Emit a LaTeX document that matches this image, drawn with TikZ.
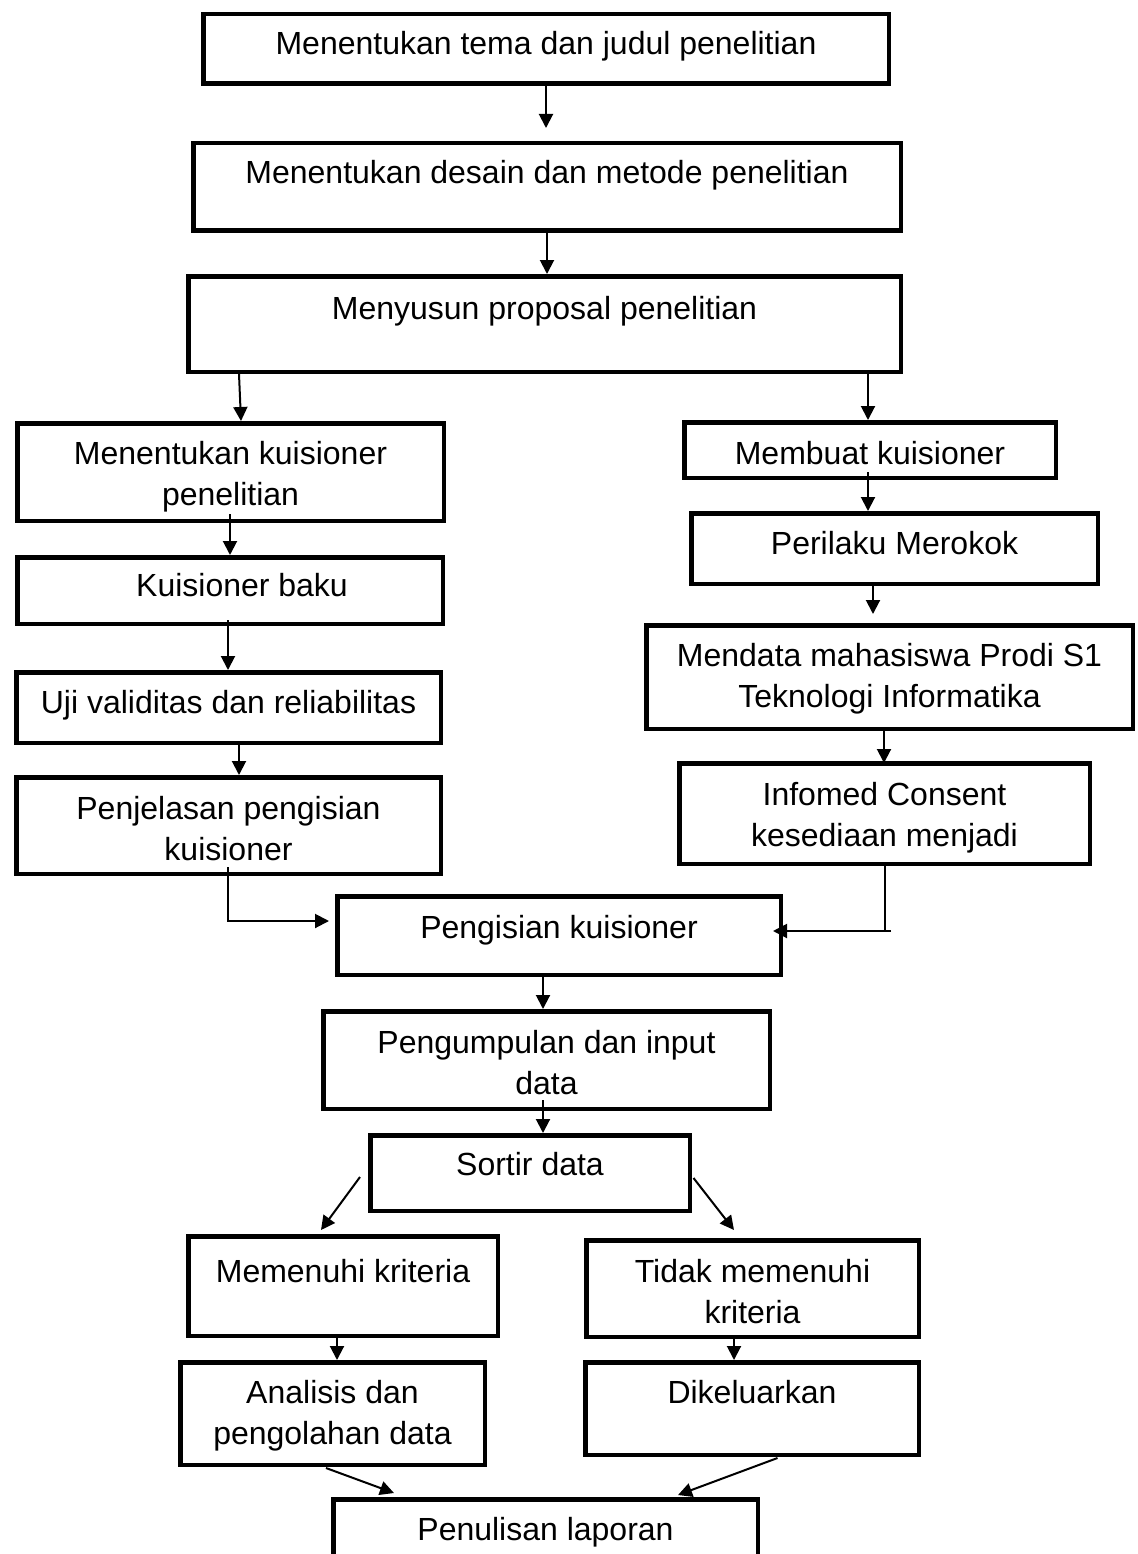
\documentclass[tikz,border=0pt]{standalone}
\usepackage{fontspec}
\setmainfont{Liberation Sans}
\usetikzlibrary{arrows.meta}
\tikzset{
    kotak/.style n args={3}{draw, line width=4.5pt, inner sep=0pt, anchor=north west, align=center,
        minimum width=#1pt-4.5pt, text height=#3pt-2.25pt, text depth=#2pt-#3pt-2.25pt},
    panah/.style={line width=2pt, -{Triangle[length=14pt,width=14pt]}},
    garis/.style={line width=2pt}
}
\begin{document}
\begin{tikzpicture}[x=1pt, y=-1pt, font=\fontsize{32}{41.3}\selectfont]
    \clip (0,0) rectangle (1137,1554);
    % alur utama
    \node[kotak={690}{74}{43}] (k1) at (201,12) {Menentukan tema dan judul penelitian};
    \node[kotak={712}{92}{42.5}] (k2) at (191,141) {Menentukan desain dan metode penelitian};
    \node[kotak={717}{100}{45.5}] (k3) at (186,274) {Menyusun proposal penelitian};
    % cabang kiri
    \node[kotak={431}{102}{84.3}] (k4) at (15,421) {Menentukan kuisioner\\penelitian};
    \node[kotak={430}{71}{41.5}] (k6) at (15,555) {\hspace*{24pt}Kuisioner baku};
    \node[kotak={429}{75}{43}] (k8) at (14,670) {Uji validitas dan reliabilitas};
    \node[kotak={429}{101}{85.3}] (k10) at (14,775) {Penjelasan pengisian\\kuisioner};
    % cabang kanan
    \node[kotak={376}{60}{44}] (k5) at (682,420) {Membuat kuisioner};
    \node[kotak={411}{75}{43}] (k7) at (689,511) {Perilaku Merokok};
    \node[kotak={491}{108}{84.8}] (k9) at (644,623) {Mendata mahasiswa Prodi S1\\Teknologi Informatika};
    \node[kotak={415}{105}{85.3}] (k11) at (677,761) {Infomed Consent\\kesediaan menjadi};
    % alur bawah
    \node[kotak={448}{83}{44}] (k12) at (335,894) {Pengisian kuisioner};
    \node[kotak={451}{102}{85.3}] (k13) at (321,1009) {Pengumpulan dan input\\data};
    \node[kotak={324}{80}{42}] (k14) at (368,1133) {Sortir data};
    \node[kotak={314}{104}{48}] (k15) at (186,1234) {Memenuhi kriteria};
    \node[kotak={337}{101}{85.3}] (k16) at (584,1238) {Tidak memenuhi\\kriteria};
    \node[kotak={309}{107}{84.3}] (k17) at (178,1360) {Analisis dan\\pengolahan data};
    \node[kotak={338}{97}{43}] (k18) at (583,1360) {Dikeluarkan};
    \node[kotak={429}{83}{43}] (k19) at (331,1497) {Penulisan laporan};
    % panah
    \draw[panah, shorten >=13pt] (k1.south -| 546,0) -- (k2.north -| 546,0);
    \draw[panah] (k2.south -| 547,0) -- (k3.north -| 547,0);
    \draw[panah] (k3.south -| 239,0) -- (k4.north -| 241,0);
    \draw[panah] (k3.south -| 868,0) -- (k5.north -| 868,0);
    \draw[panah] ([yshift=9pt]k4.south -| 230,0) -- (k6.north -| 230,0);
    \draw[panah] ([yshift=8pt]k5.south -| 868,0) -- (k7.north -| 868,0);
    \draw[panah] ([yshift=6pt]k6.south -| 228,0) -- (k8.north -| 228,0);
    \draw[panah, shorten >=9pt] ([yshift=3pt]k7.south -| 873,0) -- (k9.north -| 873,0);
    \draw[panah] (k8.south -| 239,0) -- (k10.north -| 239,0);
    \draw[panah] (k9.south -| 884,0) -- ([yshift=-2pt]k11.north -| 884,0);
    % gabungan ke pengisian
    \coordinate (c10) at (228,921);
    \coordinate (c11) at (885,931);
    \coordinate (c11b) at (891,931);
    \draw[panah, shorten >=6pt] ([yshift=9pt]k10.south -| c10) |- (k12.west |- c10);
    \draw[garis] (k11.south -| c11) -- (c11);
    \draw[panah] (c11b) -- ([xshift=-10pt]k12.east |- c11b);
    \draw[panah] (k12.south -| 543,0) -- (k13.north -| 543,0);
    \draw[panah] ([yshift=11pt]k13.south -| 543,0) -- (k14.north -| 543,0);
    % sortir
    \draw[panah] ([shift={(-8pt,-4pt)}]k14.west) -- ([shift={(-22pt,4pt)}]k15.north);
    \draw[panah] ([shift={(1.5pt,-5pt)}]k14.east) -- ([shift={(-18.5pt,8pt)}]k16.north);
    \draw[panah] (k15.south -| 337,0) -- (k17.north -| 337,0);
    \draw[panah] (k16.south -| 734,0) -- (k18.north -| 734,0);
    \draw[panah] ([shift={(-6.5pt,-1pt)}]k17.south) -- ([shift={(63pt,4pt)}]k19.north west);
    \draw[panah] ([shift={(25.5pt,-1pt)}]k18.south) -- ([shift={(-82pt,2pt)}]k19.north east);
\end{tikzpicture}
\end{document}
